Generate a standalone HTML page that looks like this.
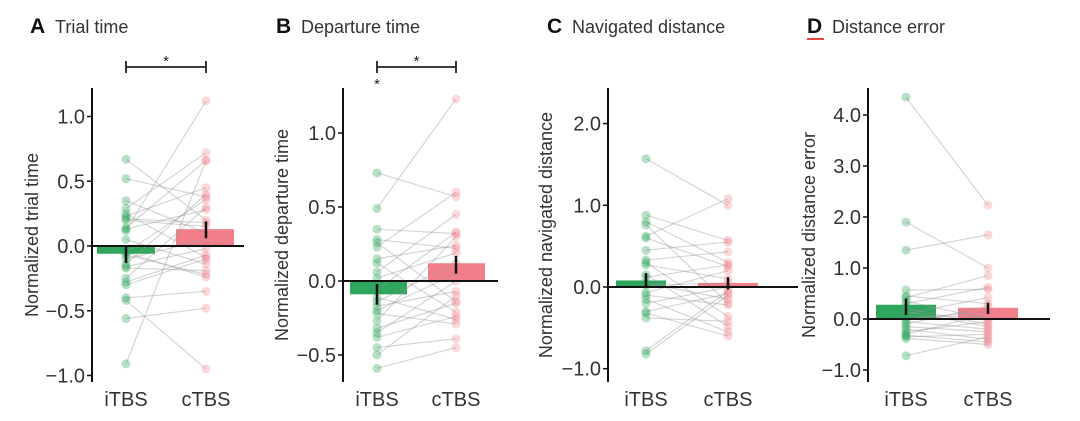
<!DOCTYPE html>
<html><head><meta charset="utf-8"><style>
body{margin:0;background:#fff;width:1080px;height:416px;overflow:hidden}
svg{font-family:"Liberation Sans",Arial,sans-serif}
</style></head><body>
<svg id="c" width="1080" height="416" viewBox="0 0 1080 416" xmlns="http://www.w3.org/2000/svg"></svg>
<script>
const categories = ["iTBS","cTBS"];
const titlesA = ["A","B","C","D"];
const titles = ["Trial time","Departure time","Navigated distance","Distance error"];
const yTitles = ["Normalized trial time","Normalized departure time","Normalized navigated distance","Normalized distance error"];
const ticksA = [1.0,0.5,0.0,-0.5,-1.0];
const ticksB = [1.0,0.5,0.0,-0.5];
const ticksC = [2.0,1.0,0.0,-1.0];
const ticksD = [4.0,3.0,2.0,1.0,0.0,-1.0];
const tickLabelsA = ["1.0","0.5","0.0","\u22120.5","\u22121.0"];
const tickLabelsB = ["1.0","0.5","0.0","\u22120.5"];
const tickLabelsC = ["2.0","1.0","0.0","\u22121.0"];
const tickLabelsD = ["4.0","3.0","2.0","1.0","0.0","\u22121.0"];
const meansA = [-0.06,0.13]; const errA = [[-0.13,0.0],[0.06,0.19]];
const meansB = [-0.09,0.12]; const errB = [[-0.16,-0.02],[0.05,0.17]];
const meansC = [0.08,0.05]; const errC = [[0.0,0.17],[-0.03,0.12]];
const meansD = [0.28,0.22]; const errD = [[0.08,0.4],[0.1,0.32]];
const iA = [0.67,0.52,0.35,0.29,0.25,0.23,0.21,0.14,0.13,0.05,-0.05,-0.07,-0.1,-0.14,-0.16,-0.17,-0.25,-0.28,-0.30,-0.40,-0.42,-0.56,-0.91,0.12,-0.05,0.2];
const cA = [0.2,0.38,0.1,0.72,-0.09,0.45,0.18,0.66,0.28,-0.14,0.36,-0.22,0.05,0.40,-0.02,-0.19,0.3,-0.07,-0.1,-0.35,-0.95,-0.48,0.66,1.12,-0.24,0.15];
const iB = [0.73,0.49,0.35,0.28,0.26,0.23,0.15,0.12,0.06,0.02,-0.06,-0.11,-0.14,-0.17,-0.2,-0.22,-0.27,-0.32,-0.35,-0.38,-0.45,-0.5,-0.59];
const cB = [0.57,1.23,0.32,0.22,-0.14,0.60,0.24,-0.21,0.45,0.19,0.33,-0.26,0.12,-0.07,0.05,-0.29,0.3,-0.15,0.0,-0.24,-0.39,-0.1,-0.45];
const iC = [1.57,0.88,0.8,0.76,0.62,0.6,0.45,0.33,0.3,0.27,0.15,0.12,0.05,-0.07,-0.15,-0.2,-0.3,-0.32,-0.38,-0.78,-0.82,-0.1,0.02];
const cC = [1.0,0.57,0.3,-0.2,1.08,0.25,0.55,0.43,-0.36,0.1,-0.48,0.27,-0.15,0.2,-0.55,0.0,-0.08,-0.6,-0.42,-0.05,-0.1,-0.22,0.05];
const iD = [4.35,1.9,1.35,0.57,0.45,0.42,0.3,0.2,0.1,0.0,-0.05,-0.1,-0.2,-0.25,-0.3,-0.32,-0.35,-0.38,-0.72,0.05,-0.15,0.35,0.15];
const cD = [2.23,1.0,1.65,0.58,0.3,0.85,0.62,-0.1,0.42,0.15,-0.2,0.25,-0.4,-0.05,0.1,-0.45,-0.3,-0.5,-0.35,0.05,-0.25,0.0,-0.15];

const panels = [
 {ax:92, zero:246, unit:129.5, bars:[[97,155],[176,234]], px:[126,206], zEnd:244, ticks:ticksA, tl:tickLabelsA, means:meansA, err:errA, i:iA, c:cA, tx:30, ytx:38, br:true},
 {ax:343, zero:281, unit:148, bars:[[350,407],[428,485]], px:[377,456], zEnd:498, ticks:ticksB, tl:tickLabelsB, means:meansB, err:errB, i:iB, c:cB, tx:276, ytx:288, br:true, star:true},
 {ax:608, zero:287, unit:81.7, bars:[[616,666],[698,758]], px:[646,728], zEnd:798, ticks:ticksC, tl:tickLabelsC, means:meansC, err:errC, i:iC, c:cC, tx:547, ytx:552},
 {ax:868, zero:319, unit:51, bars:[[876,936],[958,1018]], px:[906,988], zEnd:1050, ticks:ticksD, tl:tickLabelsD, means:meansD, err:errD, i:iD, c:cD, tx:807, ytx:815, red:true}
];
const svg = document.getElementById('c');
const NS = 'http://www.w3.org/2000/svg';
function mk(tag, attrs, parent, text){const e=document.createElementNS(NS,tag);for(const k in attrs)e.setAttribute(k,attrs[k]);if(text!==undefined)e.textContent=text;(parent||svg).appendChild(e);return e;}
const colBar=['#2ea65e','#f07f8a'], colPt=['rgba(50,165,95,0.35)','rgba(240,125,140,0.3)'];
panels.forEach((p,pi)=>{
  const g=mk('g',{});
  
  
  const y=v=>p.zero-v*p.unit;
  const t1=mk('text',{x:p.tx,y:33,'font-size':21,'font-weight':'bold',fill:'#111'},g,titlesA[pi]);
  
  
  const t2=mk('text',{x:p.tx+25,y:33,'font-size':18,fill:'#333'},g,titles[pi]);
  
  
  if(p.red){mk('line',{x1:p.tx,x2:p.tx+17,y1:39,y2:39,stroke:'#e8453c','stroke-width':2},g);}
  const axl=mk('line',{x1:p.ax,x2:p.ax,y1:88,y2:382,stroke:'#111','stroke-width':2},g);
  
  
  p.ticks.forEach((t,k)=>{
    mk('line',{x1:p.ax-5,x2:p.ax,y1:y(t),y2:y(t),stroke:'#111','stroke-width':1.5},g);
    const tl=mk('text',{x:p.ax-7,y:y(t)+7,'font-size':20,fill:'#333','text-anchor':'end'},g,p.tl[k]);
    
    
  });
  const yt=mk('text',{x:p.ytx,y:235,'font-size':18,fill:'#333','text-anchor':'middle',transform:`rotate(-90 ${p.ytx} 235)`},g,yTitles[pi]);
  
  
  p.means.forEach((m,k)=>{
    const r=mk('rect',{x:p.bars[k][0],width:p.bars[k][1]-p.bars[k][0],y:Math.min(y(m),p.zero),height:Math.abs(y(m)-p.zero),fill:colBar[k]},g);
    
    
  });
  p.i.forEach((v,k)=>{
    const l=mk('line',{x1:p.px[0],x2:p.px[1],y1:y(v),y2:y(p.c[k]),stroke:'rgba(150,150,150,0.4)','stroke-width':1.2},g);
    
    
  });
  [p.i,p.c].forEach((arr,k)=>arr.forEach(v=>{
    const c=mk('circle',{cx:p.px[k],cy:y(v),r:4.5,fill:colPt[k]},g);
    
    
  }));
  const z=mk('line',{x1:p.ax,x2:p.zEnd,y1:p.zero,y2:p.zero,stroke:'#111','stroke-width':2},g);
  
  
  p.err.forEach((e,k)=>{
    const el=mk('line',{x1:p.px[k],x2:p.px[k],y1:y(e[0]),y2:y(e[1]),stroke:'#111','stroke-width':2.5},g);
    
    
  });
  categories.forEach((c,k)=>{
    const tx=mk('text',{x:p.px[k],y:406,'font-size':20,fill:'#333','text-anchor':'middle'},g,c);
    
    
  });
  if(p.br){
    const bg=mk('g',{stroke:'#222','stroke-width':1.8},g);
    
    
    mk('line',{x1:p.px[0],x2:p.px[1],y1:67,y2:67},bg);
    mk('line',{x1:p.px[0],x2:p.px[0],y1:61,y2:73},bg);
    mk('line',{x1:p.px[1],x2:p.px[1],y1:61,y2:73},bg);
    mk('text',{x:(p.px[0]+p.px[1])/2,y:66,'font-size':15,fill:'#222','text-anchor':'middle',stroke:'none'},g,'*');
    if(p.star) mk('text',{x:p.px[0],y:89,'font-size':15,fill:'#222','text-anchor':'middle'},g,'*');
  }
});
</script>
</body></html>
